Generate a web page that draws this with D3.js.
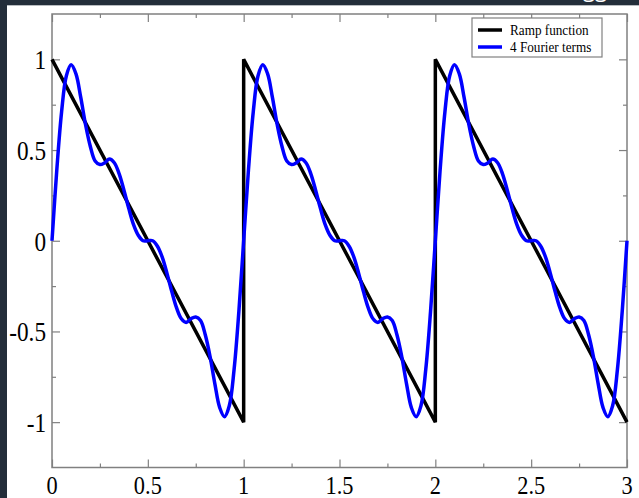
<!DOCTYPE html>
<html>
<head>
<meta charset="utf-8">
<script src="https://cdn.jsdelivr.net/npm/d3@7"></script>
<style>
  body { margin: 0; background: #232e3a; }
  text { font-family: "Liberation Serif", "DejaVu Serif", serif; }
</style>
</head>
<body>
<div id="chart"></div>
<script>
var chart_width  = 639;
var chart_height = 498;

// data
var rampX = [0, 1, 1, 2, 2, 3];
var rampY = [1, -1, 1, -1, 1, -1];

var fourierStep = 0.025;
var fourierY = [
  0, 0.39, 0.71, 0.91, 0.97, 0.92, 0.79, 0.64, 0.52, 0.44, 0.42, 0.43, 0.45, 0.43, 0.37, 0.28, 0.18, 0.09, 0.03, 0.00,
  0, -0.00, -0.03, -0.09, -0.18, -0.28, -0.37, -0.43, -0.45, -0.43, -0.42, -0.44, -0.52, -0.64, -0.79, -0.92, -0.97, -0.91, -0.71, -0.39,
  0, 0.39, 0.71, 0.91, 0.97, 0.92, 0.79, 0.64, 0.52, 0.44, 0.42, 0.43, 0.45, 0.43, 0.37, 0.28, 0.18, 0.09, 0.03, 0.00,
  0, -0.00, -0.03, -0.09, -0.18, -0.28, -0.37, -0.43, -0.45, -0.43, -0.42, -0.44, -0.52, -0.64, -0.79, -0.92, -0.97, -0.91, -0.71, -0.39,
  0, 0.39, 0.71, 0.91, 0.97, 0.92, 0.79, 0.64, 0.52, 0.44, 0.42, 0.43, 0.45, 0.43, 0.37, 0.28, 0.18, 0.09, 0.03, 0.00,
  0, -0.00, -0.03, -0.09, -0.18, -0.28, -0.37, -0.43, -0.45, -0.43, -0.42, -0.44, -0.52, -0.64, -0.79, -0.92, -0.97, -0.91, -0.71, -0.39,
  0
];

var xTicks      = [0, 0.5, 1, 1.5, 2, 2.5, 3];
var xMinorTicks = [0.25, 0.75, 1.25, 1.75, 2.25, 2.75];
var yTicks      = [-1, -0.5, 0, 0.5, 1];
var yMinorTicks = [-0.75, -0.25, 0.25, 0.75];
var legendNames = ["Ramp function", "4 Fourier terms"];
var legendColors = ["#000000", "#0000ff"];

var plotLeft = 52, plotRight = 627, plotTop = 14, plotBottom = 467.5;

var x = d3.scaleLinear().domain([0, 3]).range([plotLeft, plotRight]);
var y = d3.scaleLinear().domain([-1.25, 1.25]).range([plotBottom, plotTop]);

var svg = d3.select("#chart")
    .append("svg")
    .attr("width", chart_width)
    .attr("height", chart_height)
    .style("display", "block");

// dark frame of the screenshot + white page
svg.append("rect")
  .attr("width", chart_width)
  .attr("height", chart_height)
  .style("fill", "#232e3a");
svg.append("rect")
  .attr("x", 7).attr("y", 5.5)
  .attr("width", chart_width - 7)
  .attr("height", chart_height - 5.5)
  .style("fill", "#ffffff");
svg.append("line")
  .attr("x1", 7).attr("x2", chart_width)
  .attr("y1", 5.5).attr("y2", 5.5)
  .style("stroke", "#b8bcc0").style("stroke-width", 1);
// cut off title descenders
svg.append("text")
  .attr("x", 583).attr("y", -3)
  .style("font-family", "'Open Sans', sans-serif")
  .style("font-size", "22px")
  .style("fill", "#ffffff")
  .text("gg");

// axes (ticks pointing inward, all four sides)
var tickColor = "#808080";
var g = svg.append("g");

g.append("g").attr("transform", "translate(0," + plotBottom + ")")
  .call(d3.axisTop(x).tickValues(xTicks).tickSize(8).tickFormat("").tickSizeOuter(0));
g.append("g").attr("transform", "translate(0," + plotBottom + ")")
  .call(d3.axisTop(x).tickValues(xMinorTicks).tickSize(4).tickFormat("").tickSizeOuter(0));
g.append("g").attr("transform", "translate(0," + plotTop + ")")
  .call(d3.axisBottom(x).tickValues(xTicks).tickSize(8).tickFormat("").tickSizeOuter(0));
g.append("g").attr("transform", "translate(0," + plotTop + ")")
  .call(d3.axisBottom(x).tickValues(xMinorTicks).tickSize(4).tickFormat("").tickSizeOuter(0));
g.append("g").attr("transform", "translate(" + plotLeft + ",0)")
  .call(d3.axisRight(y).tickValues(yTicks).tickSize(8).tickFormat("").tickSizeOuter(0));
g.append("g").attr("transform", "translate(" + plotLeft + ",0)")
  .call(d3.axisRight(y).tickValues(yMinorTicks).tickSize(4).tickFormat("").tickSizeOuter(0));
g.append("g").attr("transform", "translate(" + plotRight + ",0)")
  .call(d3.axisLeft(y).tickValues(yTicks).tickSize(8).tickFormat("").tickSizeOuter(0));
g.append("g").attr("transform", "translate(" + plotRight + ",0)")
  .call(d3.axisLeft(y).tickValues(yMinorTicks).tickSize(4).tickFormat("").tickSizeOuter(0));
g.selectAll(".domain").remove();
g.selectAll(".tick line").style("stroke", tickColor).style("stroke-width", 1.2);

svg.append("rect")
  .attr("x", plotLeft).attr("y", plotTop)
  .attr("width", plotRight - plotLeft).attr("height", plotBottom - plotTop)
  .style("fill", "none")
  .style("stroke", tickColor)
  .style("stroke-width", 1.5);

// tick labels
svg.selectAll(".xlabel")
  .data(xTicks)
  .enter().append("text")
  .attr("class", "xlabel")
  .attr("transform", function(d) { return "translate(" + x(d) + ",494) scale(0.86,1)"; })
  .attr("text-anchor", "middle")
  .style("font-size", "26px")
  .text(function(d) { return d; });

svg.selectAll(".ylabel")
  .data(yTicks)
  .enter().append("text")
  .attr("class", "ylabel")
  .attr("transform", function(d) { return "translate(46," + (y(d) + 10) + ") scale(0.86,1)"; })
  .attr("text-anchor", "end")
  .style("font-size", "27px")
  .text(function(d) { return d; });

// lines
var rampLine = d3.line()
  .x(function(d, i) { return x(rampX[i]); })
  .y(function(d) { return y(d); });

var fourierLine = d3.line()
  .x(function(d, i) { return x(i * fourierStep); })
  .y(function(d) { return y(d); })
  .curve(d3.curveCatmullRom);

svg.append("path")
  .attr("d", rampLine(rampY))
  .style("fill", "none")
  .style("stroke", legendColors[0])
  .style("stroke-width", 3.5);

svg.append("path")
  .attr("d", fourierLine(fourierY))
  .style("fill", "none")
  .style("stroke", legendColors[1])
  .style("stroke-width", 3.5)
  .style("stroke-linejoin", "round");

// legend
var legend = svg.append("g");
legend.append("rect")
  .attr("x", 472).attr("y", 18)
  .attr("width", 130).attr("height", 39)
  .style("fill", "#ffffff")
  .style("stroke", tickColor)
  .style("stroke-width", 1.2);

legendNames.forEach(function(name, i) {
  var ly = 30 + i * 17;
  legend.append("line")
    .attr("x1", 478).attr("x2", 502)
    .attr("y1", ly).attr("y2", ly)
    .style("stroke", legendColors[i])
    .style("stroke-width", 3.5);
  legend.append("text")
    .attr("transform", "translate(510," + (ly + 5) + ") scale(0.88,1)")
    .style("font-size", "15px")
    .text(name);
});
</script>
</body>
</html>
